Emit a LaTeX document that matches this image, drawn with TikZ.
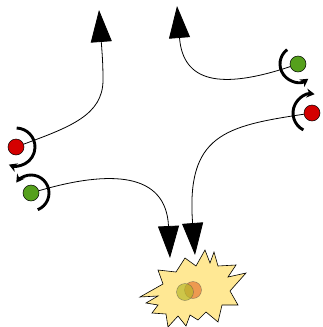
\documentclass[tikz,border=0pt]{standalone}
\usetikzlibrary{arrows.meta}
\definecolor{myred}{HTML}{D40000}
\definecolor{mygreen}{HTML}{55A01C}
\definecolor{burstfill}{HTML}{FFE894}
\definecolor{olivec}{HTML}{B8B82A}
\definecolor{orangec}{HTML}{E8803A}
\tikzset{
  ball/.style={circle, draw=black, line width=0.5pt, minimum size=16pt, inner sep=0pt},
  conn/.style={line width=0.8pt, -{Triangle[length=32pt,width=21pt]}},
  spin/.style={line width=2.9pt, -{Stealth[length=8pt,width=9pt]}},
}
\begin{document}
\begin{tikzpicture}[x=1pt,y=-1pt]
\useasboundingbox (0,0) rectangle (323,327);
% burst
\draw[fill=burstfill, line width=0.6pt, line join=miter]
 (140,297) -- (163,284) -- (158,270) -- (176,272) -- (185,258) -- (196,266)
 -- (205,250) -- (210,263) -- (214,252) -- (218,266) -- (236,265) -- (228,277)
 -- (246,273) -- (230,291) -- (238,305) -- (222,305) -- (218,322) -- (206,312)
 -- (198,320) -- (190,315) -- (186,326) -- (178,316) -- (168,327) -- (166,314)
 -- (152,313) -- (158,305) -- (146,303) -- (158,296) -- cycle;
\node[circle, draw=black!70, fill=orangec, fill opacity=0.75, draw opacity=0.6, minimum size=17pt, inner sep=0pt] (oc) at (193,290) {};
\node[circle, draw=black!70, fill=olivec, fill opacity=0.7, draw opacity=0.6, minimum size=17pt, inner sep=0pt] (gc) at (185,292) {};
% balls
\node[ball, fill=myred] (r1) at (16,147) {};
\node[ball, fill=mygreen] (g1) at (31,193) {};
\node[ball, fill=mygreen] (g2) at (298,64) {};
\node[ball, fill=myred] (r2) at (312,113) {};
% arrow end coordinates
\coordinate (t1) at (99,10);
\coordinate (t2) at (177,6);
\coordinate (b1) at (170,258);
\coordinate (b2) at (195,255);
% connectors
\draw[conn] (r1) .. controls (70,127) and (103,115) .. (103,80) .. controls (103,62) and (102,52) .. (t1);
\draw[conn] (g2) .. controls (220,90) and (183,82) .. (t2);
\draw[conn] (g1) .. controls (110,170) and (166,172) .. (b1);
\draw[conn] (r2) .. controls (225,126) and (186,135) .. (b2);
% spin arcs
\draw[spin] ([shift={(-88:19)}]r1.center) arc[start angle=-88, end angle=112, radius=19];
\draw[spin] ([shift={(68:18)}]g1.center) arc[start angle=68, end angle=-145, radius=18];
\draw[spin] ([shift={(233:18)}]g2.center) arc[start angle=233, end angle=55, radius=18];
\draw[spin] ([shift={(117:19)}]r2.center) arc[start angle=117, end angle=278, radius=19];
\end{tikzpicture}
\end{document}
